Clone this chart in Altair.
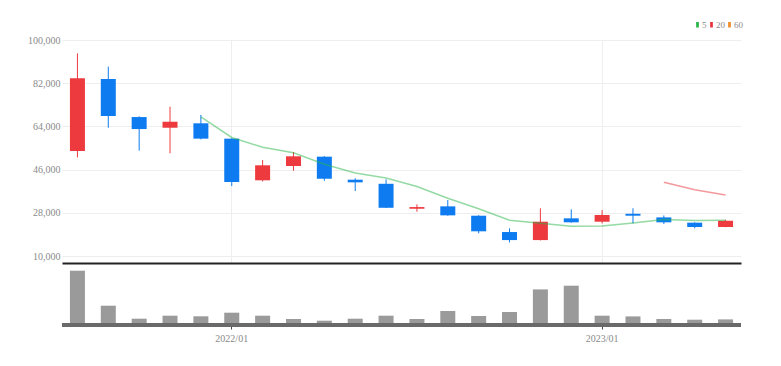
import altair as alt
import pandas as pd

months = ["2021/08", "2021/09", "2021/10", "2021/11", "2021/12", "2022/01", "2022/02",
          "2022/03", "2022/04", "2022/05", "2022/06", "2022/07", "2022/08", "2022/09",
          "2022/10", "2022/11", "2022/12", "2023/01", "2023/02", "2023/03", "2023/04", "2023/05"]
opens = [53750, 83750, 67900, 63450, 65300, 58900, 41550, 47500, 51400, 41800, 40100,
         29700, 30700, 26800, 20000, 16650, 25700, 24300, 27600, 26100, 23900, 22100]
closes = [84050, 68350, 62900, 65950, 58900, 40850, 47800, 51550, 42200, 40700, 30100,
          30400, 26950, 20300, 16650, 24300, 24050, 27100, 26800, 24050, 22100, 24700]
highs = [94450, 88900, 68200, 72200, 68750, 59100, 50000, 53350, 51600, 42400, 41950,
         31550, 33350, 27000, 21550, 29900, 29450, 29150, 29900, 26900, 24050, 25100]
lows = [51100, 63450, 53900, 52800, 58600, 39150, 41100, 45550, 41350, 37100, 30000,
        28450, 26800, 19450, 15700, 16500, 23900, 23600, 23600, 23350, 21550, 22000]
volumes = [5430, 1930, 630, 930, 870, 1230, 930, 600, 430, 630, 930, 600, 1400, 900,
           1300, 3560, 3930, 930, 860, 600, 530, 560]

ma5_months = months[4:]
ma5_values = [68000, 59400, 55300, 53000, 48250, 44600, 42500, 39000, 34100, 29700,
              24900, 23700, 22450, 22500, 23800, 25250, 24800, 24950]
ma20_months = months[19:]
ma20_values = [40700, 37600, 35400]

legend_names = ["5", "20", "60"]
legend_colors = ["#2ab54a", "#e8333a", "#f08c28"]
jan_ticks = ["2022/01", "2023/01"]
y_ticks = [10000, 28000, 46000, 64000, 82000, 100000]

candles = pd.DataFrame({"m": months, "open": opens, "close": closes,
                        "high": highs, "low": lows, "vol": volumes})
ma = pd.DataFrame({
    "m": ma5_months + ma20_months,
    "v": ma5_values + ma20_values,
    "ma": ["5"] * len(ma5_months) + ["20"] * len(ma20_months),
})

FONT = "Liberation Sans Narrow"
xscale = alt.Scale(domain=months, paddingInner=0, paddingOuter=0)
up = alt.datum.close >= alt.datum.open
RED, BLUE = "#ec3a3f", "#0e7cf0"

x_main = alt.X("m:O", scale=xscale, title=None,
               axis=alt.Axis(values=jan_ticks, labels=False, ticks=False, grid=True,
                             gridColor="#eeeeee", domain=True, domainColor="#222222",
                             domainWidth=2, bandPosition=0.5))
y_main = alt.Y("low:Q", scale=alt.Scale(domain=[7100, 100000], nice=False, zero=False),
               title=None,
               axis=alt.Axis(values=y_ticks, format=",d", ticks=False, domain=False,
                             grid=True, gridColor="#eeeeee", labelColor="#8a8a8a",
                             labelFont=FONT, labelFontSize=10, labelPadding=2,
                             minExtent=54, maxExtent=54))

color_enc = alt.Color("ma:N", scale=alt.Scale(domain=legend_names, range=legend_colors),
                      legend=alt.Legend(
                          title=None, orient="none", direction="horizontal",
                          legendX=631, legendY=-20,
                          symbolType="M-0.5,-1H0.5V1H-0.5Z", symbolSize=30,
                          symbolStrokeWidth=0, symbolOpacity=1,
                          labelFont=FONT, labelFontSize=9, labelColor="#8a8a8a",
                          labelOffset=0, columnPadding=0))

wicks = alt.Chart(candles).mark_rule(strokeWidth=1).encode(
    x=x_main, y=y_main, y2="high:Q",
    color=alt.condition(up, alt.value(RED), alt.value(BLUE)),
)
bodies = alt.Chart(candles).mark_bar(size=15).encode(
    x=x_main, y="open:Q", y2="close:Q",
    color=alt.condition(up, alt.value(RED), alt.value(BLUE)),
)
ma_keys = alt.Chart(ma).mark_point(filled=True, opacity=0).encode(
    x=x_main, y="v:Q", color=color_enc)
lines = alt.Chart(ma).mark_line(strokeWidth=1.5, strokeOpacity=0.5).encode(
    x=x_main, y="v:Q", color=color_enc)
main = alt.layer(wicks, bodies, ma_keys, lines).properties(width=679, height=223)

x_vol = alt.X("m:O", scale=xscale, title=None,
              axis=alt.Axis(values=jan_ticks, labels=True, ticks=True, tickSize=4,
                            tickColor="#444444", grid=False, domain=False,
                            labelColor="#8a8a8a", labelFont=FONT, labelFontSize=10,
                            labelPadding=4, labelAngle=0, bandPosition=0.5))
y_vol = alt.Y("vol:Q", scale=alt.Scale(domain=[0, 6100], nice=False), title=None,
              axis=alt.Axis(labels=False, ticks=False, domain=False, grid=False,
                            minExtent=54, maxExtent=54))
vbars = alt.Chart(candles).mark_bar(size=15, color="#9a9a9a").encode(x=x_vol, y=y_vol)
vbase = alt.Chart(candles).mark_rule(strokeWidth=3, color="#6a6a6a", opacity=0.85).encode(
    y=alt.datum(0))
vol = alt.layer(vbars, vbase).properties(width=679, height=61)

chart = alt.vconcat(main, vol, spacing=1).properties(
    padding={"left": 0, "top": 12, "right": 5, "bottom": 5}
).configure(background="white").configure_view(stroke=None)

chart.save("out.html", embed_options={"renderer": "svg", "actions": False})
